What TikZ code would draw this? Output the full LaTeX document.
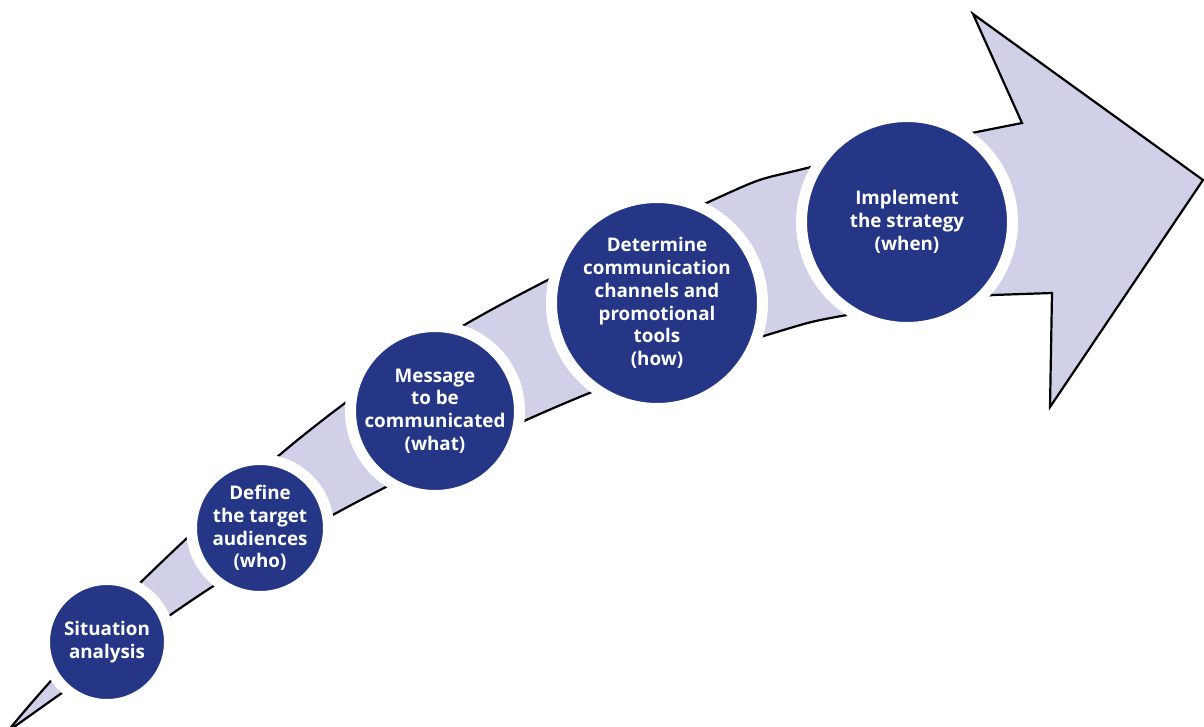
\documentclass[tikz,border=0pt]{standalone}
\usepackage{fontspec}
\setmainfont{Open Sans}
\definecolor{bandcol}{RGB}{208,208,232}
\definecolor{dblue}{RGB}{37,54,134}
\begin{document}
\begin{tikzpicture}[x=1pt,y=-1pt,
  stage/.style={circle,fill=dblue,draw=white,line width=11pt,text=white,
    font=\bfseries\fontsize{18.8}{22.7}\selectfont,align=center,inner sep=0pt},
  bandstyle/.style={fill=bandcol,draw=black,line width=2.2pt,line join=miter}]
\useasboundingbox (0,0) rectangle (1204,726);
\path[bandstyle] plot[smooth,tension=0.6] coordinates {(7,732) (49,683) (142,581) (310,430) (473,320) (713,200) (807,168) (1022,123)}
  -- (973,14) -- (1203,180) -- (1050,407) -- (1052,293) -- (993,295)
  -- plot[smooth,tension=0.6] coordinates {(993,295) (847,315) (767,335) (592,392) (380,490) (215,585) (59,695) (7,732)} -- cycle;
\node[stage,minimum size=125pt] (s1) at (107,642) {Situation\\analysis};
\node[stage,minimum size=137pt] (s2) at (260,528) {Define\\the target\\audiences\\(who)};
\node[stage,minimum size=169pt] (s3) at (435,411) {Message\\to be\\communicated\\(what)};
\node[stage,minimum size=211pt] (s4) at (657,303) {Determine\\communication\\channels and\\promotional\\tools\\(how)};
\node[stage,minimum size=211pt] (s5) at (907,222) {Implement\\the strategy\\(when)};
\end{tikzpicture}
\end{document}
